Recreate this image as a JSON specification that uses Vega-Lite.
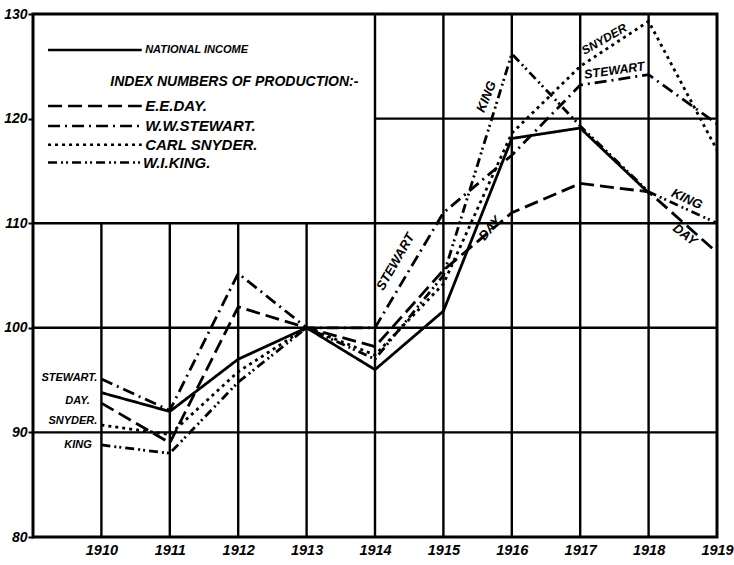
{
  "$schema": "https://vega.github.io/schema/vega-lite/v6.json",
  "autosize": "none",
  "width": 684,
  "height": 523,
  "padding": {"left": 33, "top": 14, "right": 17, "bottom": 28},
  "background": "white",
  "data": {"values": [{}]},
  "config": {
    "view": {"stroke": "black", "strokeWidth": 3},
    "axis": {"domain": false, "grid": false},
    "text": {"font": "Liberation Sans", "fontStyle": "italic", "fontWeight": "bold", "color": "black"}
  },
  "layer": [
    {
      "data": {"values": [
        {"series": "National Income", "year": 1910, "value": 93.8},
        {"series": "National Income", "year": 1911, "value": 92},
        {"series": "National Income", "year": 1912, "value": 97},
        {"series": "National Income", "year": 1913, "value": 100},
        {"series": "National Income", "year": 1914, "value": 96},
        {"series": "National Income", "year": 1915, "value": 101.6},
        {"series": "National Income", "year": 1916, "value": 118.1},
        {"series": "National Income", "year": 1917, "value": 119.1},
        {"series": "National Income", "year": 1918, "value": 112.9},
        {"series": "Day", "year": 1910, "value": 92.8},
        {"series": "Day", "year": 1911, "value": 89},
        {"series": "Day", "year": 1912, "value": 102},
        {"series": "Day", "year": 1913, "value": 100},
        {"series": "Day", "year": 1914, "value": 98.2},
        {"series": "Day", "year": 1915, "value": 105.5},
        {"series": "Day", "year": 1916, "value": 111},
        {"series": "Day", "year": 1917, "value": 113.8},
        {"series": "Day", "year": 1918, "value": 113},
        {"series": "Day", "year": 1919, "value": 107.2},
        {"series": "Stewart", "year": 1910, "value": 95.1},
        {"series": "Stewart", "year": 1911, "value": 92.1},
        {"series": "Stewart", "year": 1912, "value": 105.2},
        {"series": "Stewart", "year": 1913, "value": 100},
        {"series": "Stewart", "year": 1914, "value": 100},
        {"series": "Stewart", "year": 1915, "value": 111},
        {"series": "Stewart", "year": 1916, "value": 116.5},
        {"series": "Stewart", "year": 1917, "value": 123.2},
        {"series": "Stewart", "year": 1918, "value": 124.2},
        {"series": "Stewart", "year": 1919, "value": 119.5},
        {"series": "Snyder", "year": 1910, "value": 90.7},
        {"series": "Snyder", "year": 1911, "value": 89.8},
        {"series": "Snyder", "year": 1912, "value": 95.8},
        {"series": "Snyder", "year": 1913, "value": 100},
        {"series": "Snyder", "year": 1914, "value": 97.4},
        {"series": "Snyder", "year": 1915, "value": 104.2},
        {"series": "Snyder", "year": 1916, "value": 118.6},
        {"series": "Snyder", "year": 1917, "value": 125},
        {"series": "Snyder", "year": 1918, "value": 129.3},
        {"series": "Snyder", "year": 1919, "value": 117},
        {"series": "King", "year": 1910, "value": 88.8},
        {"series": "King", "year": 1911, "value": 88},
        {"series": "King", "year": 1912, "value": 94.8},
        {"series": "King", "year": 1913, "value": 100},
        {"series": "King", "year": 1914, "value": 97},
        {"series": "King", "year": 1915, "value": 105},
        {"series": "King", "year": 1916, "value": 126.2},
        {"series": "King", "year": 1917, "value": 119.3},
        {"series": "King", "year": 1918, "value": 113},
        {"series": "King", "year": 1919, "value": 110}
      ]},
      "mark": {"type": "line", "color": "black", "strokeWidth": 2.8},
      "encoding": {
        "x": {
          "field": "year", "type": "quantitative",
          "scale": {"domain": [1909, 1919], "nice": false, "zero": false},
          "axis": {"title": null, "values": [1910, 1911, 1912, 1913, 1914, 1915, 1916, 1917, 1918, 1919], "format": "d", "ticks": false, "labelPadding": 6, "labelFont": "Liberation Sans", "labelFontStyle": "italic", "labelFontWeight": "bold", "labelFontSize": 14.5, "labelColor": "black", "labelFlush": false}
        },
        "y": {
          "field": "value", "type": "quantitative",
          "scale": {"domain": [80, 130], "nice": false, "zero": false},
          "axis": {"title": null, "values": [80, 90, 100, 110, 120, 130], "tickSize": 5, "tickWidth": 2, "tickColor": "black", "labelPadding": 1, "labelFont": "Liberation Sans", "labelFontStyle": "italic", "labelFontWeight": "bold", "labelFontSize": 14, "labelColor": "black", "labelFlush": false}
        },
        "detail": {"field": "series"},
        "strokeDash": {
          "field": "series", "type": "nominal", "legend": null,
          "scale": {"domain": ["National Income", "Day", "Stewart", "Snyder", "King"], "range": [[1, 0], [14, 6], [12, 5, 2, 5], [3, 4], [9, 4, 2, 3, 2, 4]]}
        }
      }
    },
    {
      "data": {"values": [{"year": 1910}, {"year": 1911}, {"year": 1912}, {"year": 1913}]},
      "mark": {"type": "rule", "color": "black", "strokeWidth": 2.4},
      "encoding": {
        "x": {"field": "year", "type": "quantitative"},
        "y": {"datum": 80},
        "y2": {"datum": 110}
      }
    },
    {
      "data": {"values": [{"year": 1914}, {"year": 1915}, {"year": 1916}, {"year": 1917}, {"year": 1918}]},
      "mark": {"type": "rule", "color": "black", "strokeWidth": 2.4},
      "encoding": {
        "x": {"field": "year", "type": "quantitative"},
        "y": {"datum": 80},
        "y2": {"datum": 130}
      }
    },
    {
      "data": {"values": [{"value": 90}, {"value": 100}, {"value": 110}]},
      "mark": {"type": "rule", "color": "black", "strokeWidth": 2.4},
      "encoding": {
        "y": {"field": "value", "type": "quantitative"},
        "x": {"datum": 1909},
        "x2": {"datum": 1919}
      }
    },
    {
      "mark": {"type": "rule", "color": "black", "strokeWidth": 2.2},
      "encoding": {"y": {"datum": 120}, "x": {"datum": 1914}, "x2": {"datum": 1919}}
    },
    {
      "mark": {"type": "rule", "color": "black", "strokeWidth": 2.5},
      "encoding": {"x": {"datum": 1909.22}, "x2": {"datum": 1910.59}, "y": {"datum": 126.56}}
    },
    {
      "mark": {"type": "rule", "color": "black", "strokeWidth": 2.5, "strokeDash": [14, 6]},
      "encoding": {"x": {"datum": 1909.22}, "x2": {"datum": 1910.59}, "y": {"datum": 121.2}}
    },
    {
      "mark": {"type": "rule", "color": "black", "strokeWidth": 2.5, "strokeDash": [12, 5, 2, 5]},
      "encoding": {"x": {"datum": 1909.22}, "x2": {"datum": 1910.59}, "y": {"datum": 119.3}}
    },
    {
      "mark": {"type": "rule", "color": "black", "strokeWidth": 2.5, "strokeDash": [3, 4]},
      "encoding": {"x": {"datum": 1909.22}, "x2": {"datum": 1910.59}, "y": {"datum": 117.5}}
    },
    {
      "mark": {"type": "rule", "color": "black", "strokeWidth": 2.5, "strokeDash": [9, 4, 2, 3, 2, 4]},
      "encoding": {"x": {"datum": 1909.22}, "x2": {"datum": 1910.59}, "y": {"datum": 115.8}}
    },
    {
      "mark": {"type": "text", "align": "left", "baseline": "middle", "fontSize": 11},
      "encoding": {"x": {"datum": 1910.64}, "y": {"datum": 126.56}, "text": {"value": "NATIONAL INCOME"}}
    },
    {
      "mark": {"type": "text", "align": "left", "baseline": "middle", "fontSize": 14},
      "encoding": {"x": {"datum": 1910.13}, "y": {"datum": 123.5}, "text": {"value": "INDEX NUMBERS OF PRODUCTION:-"}}
    },
    {
      "mark": {"type": "text", "align": "left", "baseline": "middle", "fontSize": 15},
      "encoding": {"x": {"datum": 1910.64}, "y": {"datum": 121.2}, "text": {"value": "E.E.DAY."}}
    },
    {
      "mark": {"type": "text", "align": "left", "baseline": "middle", "fontSize": 15},
      "encoding": {"x": {"datum": 1910.64}, "y": {"datum": 119.3}, "text": {"value": "W.W.STEWART."}}
    },
    {
      "mark": {"type": "text", "align": "left", "baseline": "middle", "fontSize": 15},
      "encoding": {"x": {"datum": 1910.64}, "y": {"datum": 117.5}, "text": {"value": "CARL SNYDER."}}
    },
    {
      "mark": {"type": "text", "align": "left", "baseline": "middle", "fontSize": 15},
      "encoding": {"x": {"datum": 1910.61}, "y": {"datum": 115.8}, "text": {"value": "W.I.KING."}}
    },
    {
      "mark": {"type": "text", "align": "right", "baseline": "middle", "fontSize": 11},
      "encoding": {"x": {"datum": 1909.94}, "y": {"datum": 95.2}, "text": {"value": "STEWART."}}
    },
    {
      "mark": {"type": "text", "align": "right", "baseline": "middle", "fontSize": 11},
      "encoding": {"x": {"datum": 1909.83}, "y": {"datum": 93.0}, "text": {"value": "DAY."}}
    },
    {
      "mark": {"type": "text", "align": "right", "baseline": "middle", "fontSize": 11},
      "encoding": {"x": {"datum": 1909.94}, "y": {"datum": 91.1}, "text": {"value": "SNYDER."}}
    },
    {
      "mark": {"type": "text", "align": "right", "baseline": "middle", "fontSize": 11},
      "encoding": {"x": {"datum": 1909.86}, "y": {"datum": 88.8}, "text": {"value": "KING"}}
    },
    {
      "mark": {"type": "text", "align": "center", "baseline": "middle", "fontSize": 13, "angle": -60},
      "encoding": {"x": {"datum": 1914.3}, "y": {"datum": 106.3}, "text": {"value": "STEWART"}}
    },
    {
      "mark": {"type": "text", "align": "center", "baseline": "middle", "fontSize": 13, "angle": -68},
      "encoding": {"x": {"datum": 1915.63}, "y": {"datum": 122.1}, "text": {"value": "KING"}}
    },
    {
      "mark": {"type": "text", "align": "center", "baseline": "middle", "fontSize": 13, "angle": -50},
      "encoding": {"x": {"datum": 1915.68}, "y": {"datum": 109.5}, "text": {"value": "DAY"}}
    },
    {
      "mark": {"type": "text", "align": "center", "baseline": "middle", "fontSize": 12, "angle": -30},
      "encoding": {"x": {"datum": 1917.35}, "y": {"datum": 127.6}, "text": {"value": "SNYDER"}}
    },
    {
      "mark": {"type": "text", "align": "center", "baseline": "middle", "fontSize": 12.5, "angle": -8},
      "encoding": {"x": {"datum": 1917.5}, "y": {"datum": 124.6}, "text": {"value": "STEWART"}}
    },
    {
      "mark": {"type": "text", "align": "center", "baseline": "middle", "fontSize": 13, "angle": 25},
      "encoding": {"x": {"datum": 1918.56}, "y": {"datum": 112.3}, "text": {"value": "KING"}}
    },
    {
      "mark": {"type": "text", "align": "center", "baseline": "middle", "fontSize": 13, "angle": 38},
      "encoding": {"x": {"datum": 1918.53}, "y": {"datum": 108.9}, "text": {"value": "DAY"}}
    }
  ]
}
